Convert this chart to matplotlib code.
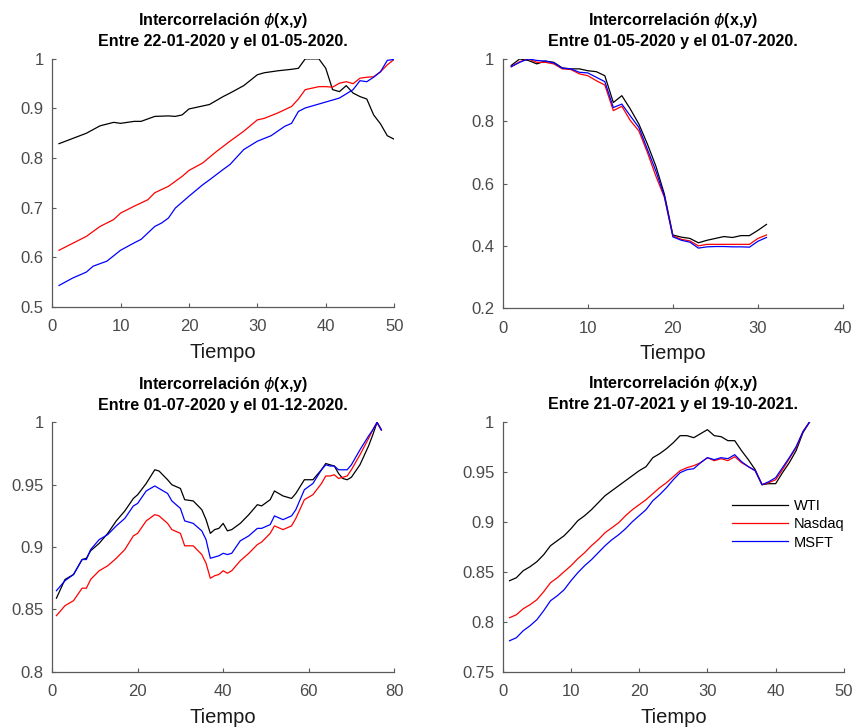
import numpy as np
import matplotlib
matplotlib.use('Agg')
import matplotlib.pyplot as plt

plt.rcParams['font.family'] = ['Liberation Sans', 'DejaVu Sans']
plt.rcParams['mathtext.fontset'] = 'dejavusans'

# Panel 1: 22-01-2020 a 01-05-2020
x1_wti = [1, 5, 7, 9, 10, 12, 13, 15, 17, 18, 19, 20, 23, 25, 26, 28, 30, 31, 33, 35, 36,
          37, 38, 39, 40, 41, 42, 43, 44, 45, 46, 47, 48, 49, 50]
y1_wti = [0.829, 0.850, 0.865, 0.872, 0.870, 0.874, 0.874, 0.884, 0.885, 0.884, 0.887, 0.899,
          0.908, 0.924, 0.931, 0.946, 0.968, 0.972, 0.976, 0.979, 0.981, 1.0, 1.0, 1.0, 0.981,
          0.938, 0.934, 0.946, 0.931, 0.924, 0.919, 0.887, 0.869, 0.845, 0.838]
x1_nas = [1, 5, 7, 9, 10, 12, 14, 15, 17, 19, 20, 22, 24, 26, 28, 30, 31, 33, 35, 36, 37, 38,
          39, 40, 41, 42, 43, 44, 45, 46, 47, 48, 49, 50]
y1_nas = [0.614, 0.642, 0.662, 0.676, 0.689, 0.703, 0.716, 0.730, 0.743, 0.763, 0.775, 0.790,
          0.813, 0.834, 0.854, 0.877, 0.880, 0.891, 0.904, 0.919, 0.938, 0.941, 0.944, 0.944,
          0.943, 0.951, 0.954, 0.950, 0.961, 0.963, 0.964, 0.974, 0.988, 0.999]
x1_msft = [1, 3, 5, 6, 8, 10, 12, 13, 15, 16, 17, 18, 20, 22, 23, 25, 26, 28, 30, 32, 34, 35,
           36, 37, 39, 41, 42, 44, 45, 46, 47, 48, 49, 50]
y1_msft = [0.543, 0.558, 0.570, 0.582, 0.592, 0.614, 0.629, 0.636, 0.662, 0.669, 0.679, 0.699,
           0.723, 0.746, 0.756, 0.777, 0.787, 0.817, 0.834, 0.845, 0.864, 0.870, 0.894, 0.901,
           0.909, 0.917, 0.921, 0.938, 0.956, 0.954, 0.963, 0.974, 0.997, 0.999]

# Panel 2: 01-05-2020 a 01-07-2020
x2 = list(range(1, 32))
y2_wti = [0.979, 1.0, 0.995, 0.984, 0.993, 0.989, 0.971, 0.968, 0.968, 0.962, 0.959, 0.946,
          0.860, 0.882, 0.839, 0.791, 0.727, 0.656, 0.566, 0.435, 0.428, 0.424, 0.410, 0.418,
          0.424, 0.430, 0.427, 0.433, 0.433, 0.450, 0.469]
y2_nas = [0.975, 0.991, 1.0, 0.989, 0.989, 0.984, 0.968, 0.966, 0.952, 0.946, 0.930, 0.916,
          0.834, 0.848, 0.802, 0.769, 0.700, 0.624, 0.556, 0.432, 0.421, 0.416, 0.400, 0.405,
          0.405, 0.405, 0.405, 0.405, 0.405, 0.424, 0.435]
y2_msft = [0.975, 0.989, 1.0, 0.995, 0.993, 0.987, 0.970, 0.968, 0.957, 0.955, 0.941, 0.927,
           0.844, 0.855, 0.817, 0.780, 0.710, 0.640, 0.560, 0.429, 0.418, 0.412, 0.393, 0.397,
           0.398, 0.398, 0.397, 0.397, 0.396, 0.415, 0.427]

# Panel 3: 01-07-2020 a 01-12-2020
x3 = [1, 3, 5, 7, 8, 9, 11, 13, 15, 17, 19, 20, 22, 24, 25, 27, 28, 30, 31, 33, 35, 36, 37,
      38, 39, 40, 41, 42, 44, 46, 48, 49, 51, 52, 54, 56, 57, 59, 61, 63, 64, 65, 66, 67,
      68, 69, 70, 72, 74, 75, 76, 77]
y3_wti = [0.859, 0.874, 0.878, 0.890, 0.891, 0.897, 0.903, 0.911, 0.921, 0.929, 0.939, 0.942,
          0.951, 0.962, 0.961, 0.954, 0.950, 0.947, 0.938, 0.937, 0.930, 0.922, 0.911, 0.914,
          0.915, 0.919, 0.913, 0.914, 0.919, 0.926, 0.934, 0.933, 0.938, 0.945, 0.941, 0.939,
          0.943, 0.954, 0.954, 0.962, 0.967, 0.966, 0.965, 0.959, 0.955, 0.954, 0.956, 0.966,
          0.981, 0.990, 1.0, 0.994]
y3_nas = [0.845, 0.853, 0.857, 0.867, 0.867, 0.874, 0.881, 0.885, 0.891, 0.898, 0.909, 0.911,
          0.921, 0.926, 0.925, 0.919, 0.914, 0.911, 0.901, 0.901, 0.894, 0.887, 0.875, 0.877,
          0.878, 0.881, 0.879, 0.881, 0.889, 0.895, 0.902, 0.904, 0.911, 0.917, 0.914, 0.917,
          0.923, 0.938, 0.942, 0.951, 0.957, 0.957, 0.958, 0.955, 0.956, 0.957, 0.962, 0.974,
          0.987, 0.994, 1.0, 0.994]
y3_msft = [0.865, 0.873, 0.878, 0.890, 0.890, 0.898, 0.906, 0.910, 0.917, 0.923, 0.933, 0.935,
           0.945, 0.949, 0.947, 0.943, 0.937, 0.931, 0.921, 0.919, 0.913, 0.906, 0.891, 0.892,
           0.893, 0.895, 0.894, 0.895, 0.905, 0.909, 0.915, 0.915, 0.918, 0.925, 0.922, 0.925,
           0.930, 0.946, 0.951, 0.962, 0.966, 0.965, 0.965, 0.962, 0.962, 0.962, 0.966, 0.978,
           0.989, 0.994, 1.0, 0.994]

# Panel 4: 21-07-2021 a 19-10-2021
x4 = list(range(1, 46))
y4_wti = [0.841, 0.844, 0.851, 0.855, 0.860, 0.867, 0.876, 0.881, 0.886, 0.893, 0.901, 0.906,
          0.912, 0.919, 0.926, 0.931, 0.936, 0.941, 0.946, 0.951, 0.955, 0.964, 0.968, 0.973,
          0.979, 0.986, 0.986, 0.984, 0.988, 0.992, 0.986, 0.985, 0.981, 0.981, 0.971, 0.962,
          0.952, 0.937, 0.938, 0.938, 0.949, 0.959, 0.971, 0.989, 1.0]
y4_nas = [0.804, 0.807, 0.813, 0.817, 0.822, 0.830, 0.839, 0.844, 0.850, 0.856, 0.863, 0.869,
          0.876, 0.882, 0.889, 0.894, 0.899, 0.906, 0.912, 0.917, 0.922, 0.928, 0.934, 0.939,
          0.945, 0.951, 0.954, 0.956, 0.959, 0.964, 0.961, 0.963, 0.961, 0.965, 0.959, 0.955,
          0.951, 0.937, 0.939, 0.942, 0.952, 0.963, 0.974, 0.990, 1.0]
y4_msft = [0.781, 0.784, 0.791, 0.796, 0.802, 0.811, 0.821, 0.826, 0.832, 0.841, 0.849, 0.856,
           0.862, 0.869, 0.876, 0.882, 0.887, 0.893, 0.900, 0.906, 0.912, 0.921, 0.927, 0.934,
           0.942, 0.949, 0.952, 0.953, 0.959, 0.964, 0.962, 0.964, 0.963, 0.967, 0.960, 0.955,
           0.951, 0.937, 0.940, 0.944, 0.954, 0.964, 0.975, 0.990, 1.0]

periodos = ['Entre 22-01-2020 y el 01-05-2020.', 'Entre 01-05-2020 y el 01-07-2020.',
            'Entre 01-07-2020 y el 01-12-2020.', 'Entre 21-07-2021 y el 19-10-2021.']

fig = plt.figure(figsize=(8.55, 7.27), dpi=100)
pos = [[0.061, 0.578, 0.400, 0.341], [0.588, 0.576, 0.398, 0.343],
       [0.061, 0.076, 0.400, 0.343], [0.588, 0.076, 0.399, 0.344]]
axs = [fig.add_axes(p) for p in pos]

series = [
    ((x1_wti, y1_wti), (x1_nas, y1_nas), (x1_msft, y1_msft)),
    ((x2, y2_wti), (x2, y2_nas), (x2, y2_msft)),
    ((x3, y3_wti), (x3, y3_nas), (x3, y3_msft)),
    ((x4, y4_wti), (x4, y4_nas), (x4, y4_msft)),
]
xlims = [(0, 50), (0, 40), (0, 80), (0, 50)]
ylims = [(0.5, 1), (0.2, 1), (0.8, 1), (0.75, 1)]
xticks = [np.arange(0, 51, 10), np.arange(0, 41, 10), np.arange(0, 81, 20), np.arange(0, 51, 10)]
yticks = [[0.5, 0.6, 0.7, 0.8, 0.9, 1], [0.2, 0.4, 0.6, 0.8, 1],
          [0.8, 0.85, 0.9, 0.95, 1], [0.75, 0.8, 0.85, 0.9, 0.95, 1]]
ylabels = [['0.5', '0.6', '0.7', '0.8', '0.9', '1'], ['0.2', '0.4', '0.6', '0.8', '1'],
           ['0.8', '0.85', '0.9', '0.95', '1'], ['0.75', '0.8', '0.85', '0.9', '0.95', '1']]

gris = '#5a5a5a'
for i, ax in enumerate(axs):
    (xw, yw), (xn, yn), (xm, ym) = series[i]
    ax.plot(xw, yw, color='black', lw=0.9, label='WTI')
    ax.plot(xn, yn, color='red', lw=0.9, label='Nasdaq')
    ax.plot(xm, ym, color='blue', lw=0.9, label='MSFT')
    ax.set_xlim(xlims[i])
    ax.set_ylim(ylims[i])
    ax.set_xticks(xticks[i])
    ax.set_yticks(yticks[i])
    ax.set_yticklabels(ylabels[i])
    for s in ['top', 'right']:
        ax.spines[s].set_visible(False)
    for s in ['left', 'bottom']:
        ax.spines[s].set_color(gris)
        ax.spines[s].set_linewidth(0.9)
    ax.tick_params(direction='in', length=3, width=0.8, color=gris,
                   labelcolor='#4a4a4a', labelsize=12)
    ax.tick_params(axis='x', pad=9)
    ax.tick_params(axis='y', pad=6)
    ax.set_title('Intercorrelación $\\phi$(x,y)\n' + periodos[i], fontsize=11.5,
                 fontweight='bold', pad=9, linespacing=1.35)
    ax.set_xlabel('Tiempo', fontsize=14.5, color='#1a1a1a', labelpad=6)

axs[3].legend(loc='center left', bbox_to_anchor=(0.635, 0.59), frameon=False, fontsize=10.5,
              handlelength=3.8, handletextpad=0.4, labelspacing=0.3)

plt.savefig('out.png', dpi=100)
